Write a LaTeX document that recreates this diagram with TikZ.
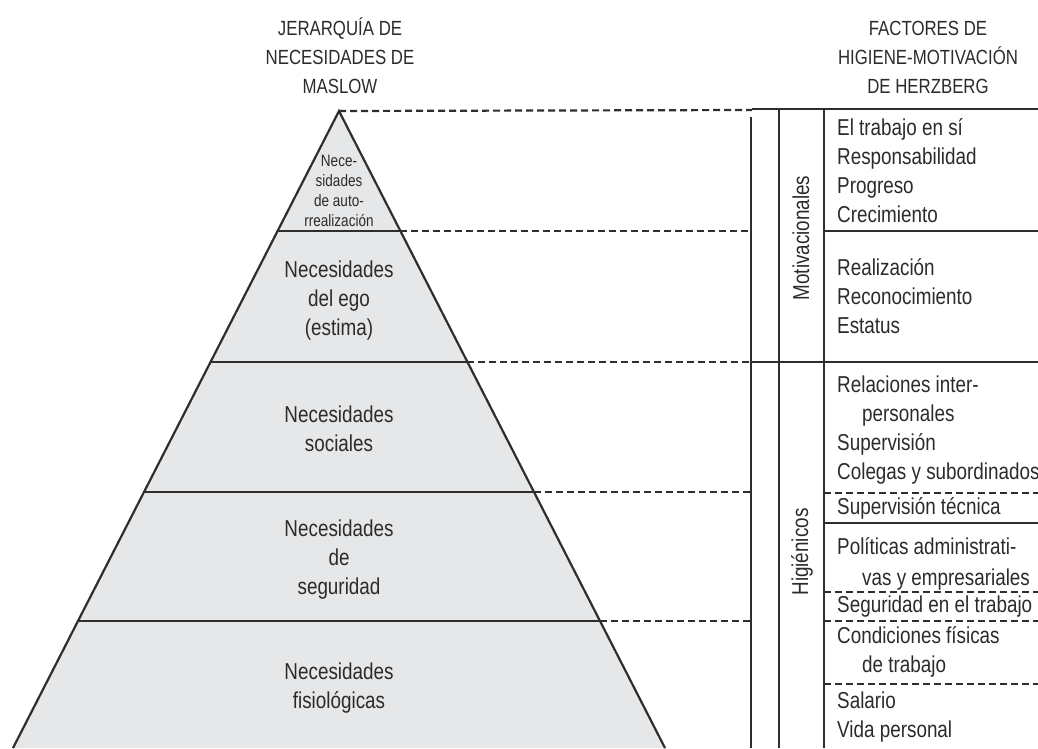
\documentclass[tikz,border=0pt]{standalone}
\usepackage{fontspec}
\setmainfont{Liberation Sans}[FakeStretch=0.82]
\definecolor{ink}{HTML}{2B2B2B}
\definecolor{lin}{HTML}{2E2E2E}
\definecolor{pyr}{HTML}{E6E7E8}
\begin{document}
\begin{tikzpicture}[x=1pt,y=-1pt,
 solidline/.style={draw=lin, line width=2.2pt},
 dashline/.style={draw=lin, line width=2.2pt, dash pattern=on 7pt off 4pt},
 txt/.style={text=ink, font=\fontsize{23}{29}\selectfont, inner sep=0pt},
 lst/.style={txt, align=left, anchor=west},
 ctr/.style={txt, align=center},
 hdr/.style={text=ink, font=\fontsize{20.5}{29}\selectfont, align=center, inner sep=0pt}]
\useasboundingbox (0,0) rectangle (1038,748);
\begin{scope}
\clip (0,0) rectangle (1038,748);
% pyramid coordinates
\coordinate (apex) at (339,111);
\coordinate (bl) at (13,748);
\coordinate (br) at (665,748);
\coordinate (L1l) at (278,231); \coordinate (L1r) at (400,231);
\coordinate (L2l) at (211,362); \coordinate (L2r) at (467,362);
\coordinate (L3l) at (144,492); \coordinate (L3r) at (534,492);
\coordinate (L4l) at (78,621);  \coordinate (L4r) at (600,621);
% verticals
\coordinate (v1t) at (751,117); \coordinate (v1b) at (751,748);
\coordinate (v2t) at (779,109); \coordinate (v2b) at (779,748);
\coordinate (v3t) at (824,109); \coordinate (v3b) at (824,748);
\coordinate (rt) at (1038,109);
% pyramid
\fill[pyr] (apex) -- (br) -- (bl) -- cycle;
\draw[solidline] (L1l) -- (L1r);
\draw[solidline] (L2l) -- (L2r);
\draw[solidline] (L3l) -- (L3r);
\draw[solidline] (L4l) -- (L4r);
\draw[solidline, line join=miter] (bl) -- (apex) -- (br);
% dashed level lines
\draw[dashline] (apex) -- (752,110);
\draw[solidline] (752,109) -- (rt);
\draw[dashline] (L1r) -- (749,231);
\draw[dashline] (L2r) -- (751,362);
\draw[dashline] (L3r) -- (751,492);
\draw[dashline] (L4r) -- (751,621);
% vertical lines
\draw[solidline] (v1t) -- (v1b);
\draw[solidline] (v2t) -- (v2b);
\draw[solidline] (v3t) -- (v3b);
% right panel separators
\draw[solidline] (824,231) -- (1038,231);
\draw[solidline] (751,362) -- (1038,362);
\draw[dashline] (824,493) -- (1038,493);
\draw[solidline] (824,523) -- (1038,523);
\draw[dashline] (824,592) -- (1038,592);
\draw[dashline] (824,621) -- (1038,621);
\draw[dashline] (824,684) -- (1038,684);
% headers
\node[hdr] (hm) at (340,56) {JERARQUÍA DE\\NECESIDADES DE\\MASLOW};
\node[hdr] (hh) at (928,57) {FACTORES DE\\HIGIENE-MOTIVACIÓN\\DE HERZBERG};
% pyramid texts
\node[ctr, font=\fontsize{16.5}{20}\selectfont] (n5) at (339,191) {Nece-\\sidades\\de auto-\\rrealización};
\node[ctr] (n4) at (339,301) {Necesidades\\del ego\\(estima)};
\node[ctr] (n3) at (339,429) {Necesidades\\sociales};
\node[ctr] (n2) at (339,560) {Necesidades\\de\\seguridad};
\node[ctr] (n1) at (339,688) {Necesidades\\fisiológicas};
% rotated labels
\node[txt, rotate=90] (mot) at (801,238) {Motivacionales};
\node[txt, rotate=90] (hig) at (802,552) {Higiénicos};
% right panel lists
\node[lst] (m1) at (837,171) {El trabajo en sí\\Responsabilidad\\Progreso\\Crecimiento};
\node[lst] (m2) at (837,296) {Realización\\Reconocimiento\\Estatus};
\node[lst] (h1) at (837,430) {Relaciones inter-\\\hspace*{25pt}personales\\Supervisión\\Colegas y subordinados};
\node[lst] (h2) at (837,508) {Supervisión técnica};
\node[lst, font=\fontsize{23}{31}\selectfont] (h3) at (837,564) {Políticas administrati-\\\hspace*{25pt}vas y empresariales};
\node[lst] (h4) at (837,607) {Seguridad en el trabajo};
\node[lst] (h5) at (837,652) {Condiciones físicas\\\hspace*{25pt}de trabajo};
\node[lst] (h6) at (837,717) {Salario\\Vida personal};
\end{scope}
\end{tikzpicture}
\end{document}
